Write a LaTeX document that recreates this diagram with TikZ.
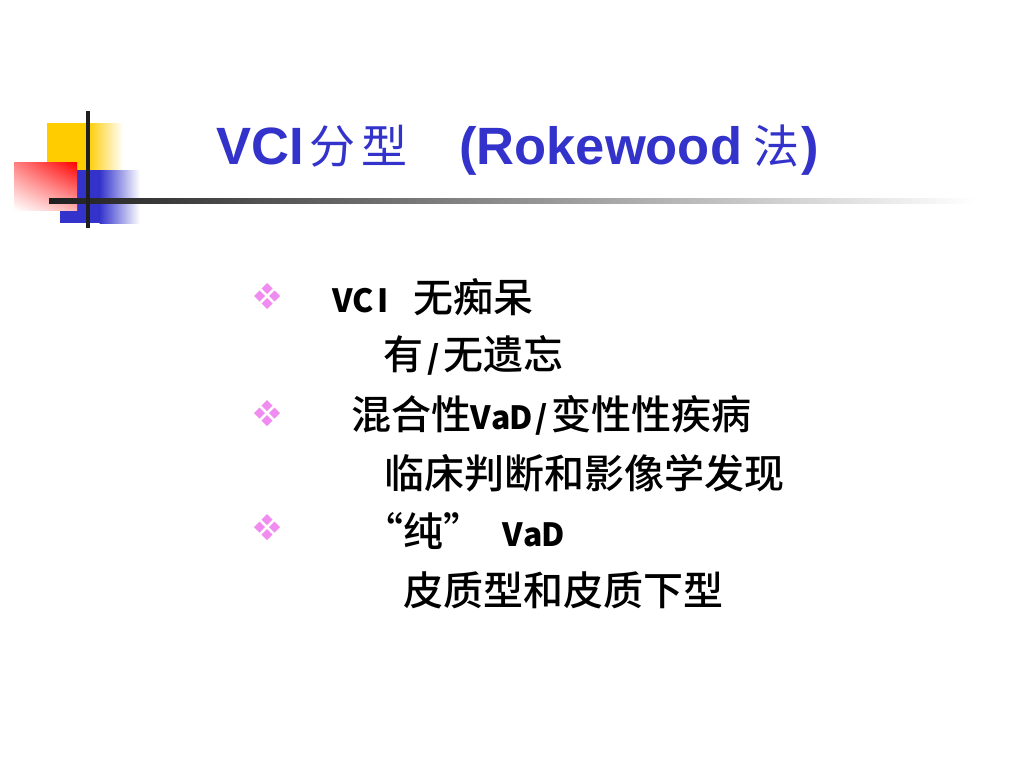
\documentclass[tikz,border=0pt]{standalone}
\usepackage{fontspec}
\usetikzlibrary{shadings}
\setmainfont{Liberation Sans}
\newfontfamily\cjk{Noto Sans CJK SC}
\newfontfamily\cjkm{Noto Sans CJK SC Medium}
\newfontfamily\arialb{Liberation Sans}
\definecolor{titleblue}{HTML}{3333CC}
\definecolor{decoyellow}{HTML}{FFCC00}
\definecolor{decoblue}{HTML}{3333CC}
\definecolor{bulletpink}{RGB}{240,140,240}
\newcommand\hw[1]{\makebox[20pt]{\cjk\fontsize{32}{32}\selectfont\bfseries #1}}
\newcommand\myLq[1]{\makebox[20pt][r]{#1}}
\newcommand\myRq[1]{\makebox[20pt][l]{#1}}
\tikzset{
  ttl/.style={inner sep=0, anchor=base west, text=titleblue, font=\arialb\bfseries\fontsize{52.5}{60}\selectfont},
  ttlcjk/.style={inner sep=0, anchor=base, text=titleblue, font=\cjk\fontsize{46}{52}\selectfont},
  body/.style={inner sep=0, anchor=base west, font=\cjkm\fontsize{40}{48}\selectfont},
  dmnd/.pic={
    \foreach \dx/\dy in {0/-7.5,-7.5/0,7.5/0,0/7.5}{
      \fill[bulletpink] (\dx,\dy) +(0,-5.5) -- +(5.5,0) -- +(0,5.5) -- +(-5.5,0) -- cycle;
    }
  },
}
\begin{document}
\begin{tikzpicture}[x=1pt,y=-1pt]
\useasboundingbox (0,0) rectangle (1024,768);
\fill[white] (0,0) rectangle (1024,768);
% decoration
\fill[decoyellow] (47,123) rectangle (88,170);
\shade[left color=decoyellow, right color=white] (87.5,123) rectangle (123,170);
\fill[decoblue] (60,170) rectangle (100,223);
\shade[left color=decoblue, right color=white] (99.5,170) rectangle (140,223);
\shade[upper left=red!50, upper right=red, lower left=white, lower right=red!30] (14,162) rectangle (77,210);
\shade[left color=black!88, right color=white] (49,198.5) rectangle (975,203.5);
\fill[black!88] (85.5,111) rectangle (89.5,228);
% title
\node[ttl] (t1) at (216,164) {VCI};
\node[ttlcjk] (t2) at (332,163) {分};
\node[ttlcjk] (t3) at (384,163) {型};
\node[ttl] (t4) at (459,164) {(Rokewood};
\node[ttlcjk] (t5) at (776.5,163) {法};
\node[ttl] (t6) at (801,164) {)};
% bullets
\pic at (267,296) {dmnd};
\pic at (267,413) {dmnd};
\pic at (267,527) {dmnd};
% body
\node[body] (l1) at (333,312) {\hw{V}\hw{C}\hw{I}\hw{ }无痴呆};
\node[body] (l2) at (383,369) {有\hw{/}无遗忘};
\node[body] (l3) at (351,429) {混合性\hw{V}\hw{a}\hw{D}\hw{/}变性性疾病};
\node[body] (l4) at (384,488) {临床判断和影像学发现};
\node[body] (l5) at (383,546) {\myLq{“}纯\myRq{”}\hw{ }\hw{ }\hw{V}\hw{a}\hw{D}};
\node[body] (l6) at (403,605) {皮质型和皮质下型};
\end{tikzpicture}
\end{document}
